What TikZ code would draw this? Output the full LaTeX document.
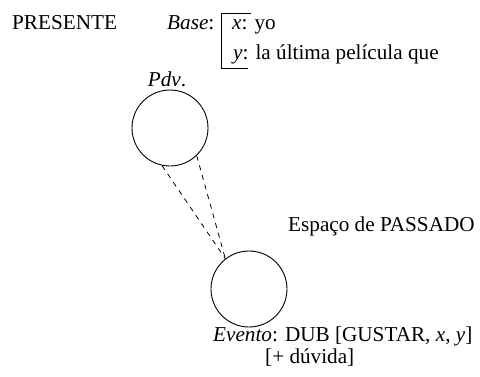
\documentclass[tikz,border=0pt]{standalone}
\usepackage{fontspec}
\setmainfont{Liberation Serif}
\begin{document}
\begin{tikzpicture}[x=1pt,y=-1pt,
  txt/.style={inner sep=0pt,anchor=base west,font=\fontsize{21.2}{24}\selectfont},
  space/.style={draw,circle,minimum size=76pt,inner sep=0pt,line width=0.9pt},
  link/.style={line width=0.8pt,dash pattern=on 5pt off 5pt}]
\useasboundingbox (0,0) rectangle (480,376);
\node[txt] (pres) at (12,29) {PRESENTE};
\node[txt] (base) at (167,29) {\textit{Base}:};
\node[txt] (xl) at (232,29) {\textit{x}: yo};
\node[txt] (yl) at (233,59) {\textit{y}: la última película que};
\coordinate (bt) at (251,13);
\coordinate (bb) at (248,68);
\draw[line width=0.9pt] (bt) -- (221,13) -- (221,68) -- (bb);
\node[txt,anchor=base] (pdv) at (167,86) {\textit{Pdv}.};
\node[space] (c1) at (170,128) {};
\node[space] (c2) at (249,289) {};
\draw[link] (c1.258) -- (c2.128);
\draw[link] (c1.314) -- (c2.128);
\node[txt] (pas) at (288,231) {Espaço de PASSADO};
\node[txt] (ev) at (213,341) {\textit{Evento}: DUB [GUSTAR, \textit{x}, \textit{y}]};
\node[txt] (dv) at (265,363) {[+ dúvida]};
\end{tikzpicture}
\end{document}
